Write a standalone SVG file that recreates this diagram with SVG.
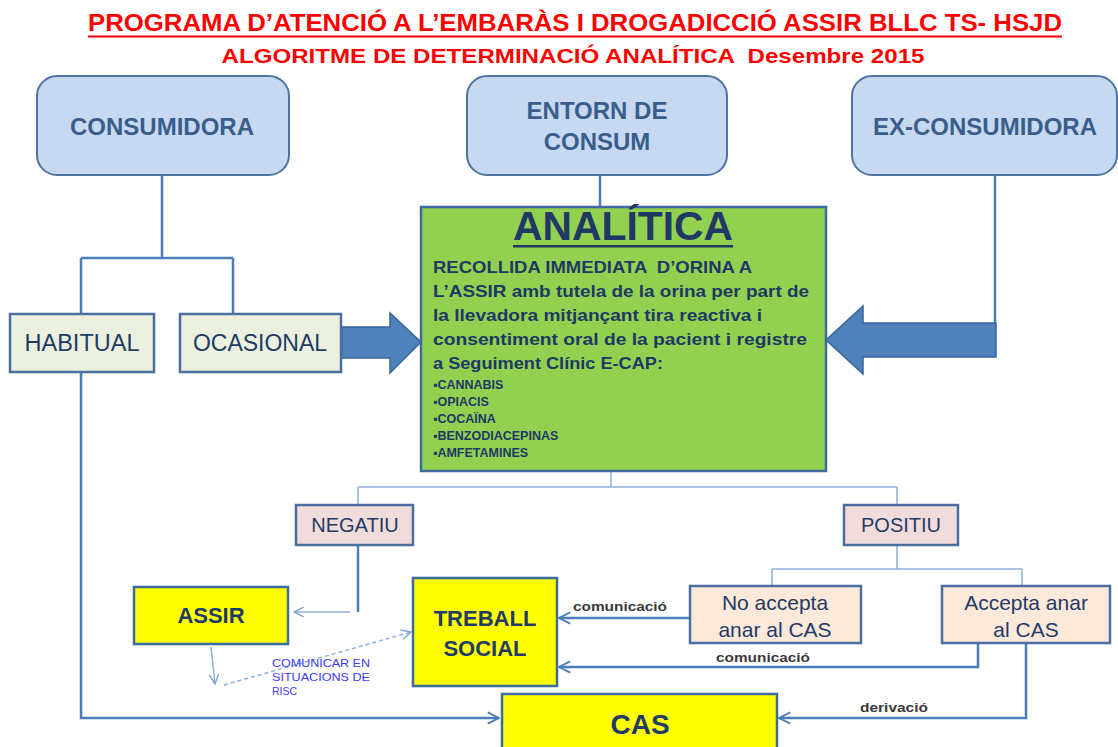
<svg xmlns="http://www.w3.org/2000/svg" width="1118" height="747" viewBox="0 0 1118 747">
<defs>
<style>
text{font-family:"Liberation Sans",Arial,sans-serif}
.title{fill:#ff0000;font-weight:bold;white-space:pre}
.top{fill:#c6d9f1;stroke:#4f73a3;stroke-width:2}
.toptxt{fill:#3a5e8c;font-weight:bold;font-size:24px;text-anchor:middle}
.pale{fill:#ebf1de;stroke:#4a6e9f;stroke-width:2.5}
.pink{fill:#f2dcdb;stroke:#4a6e9f;stroke-width:2.5}
.peach{fill:#fde9d9;stroke:#4a6e9f;stroke-width:2.5}
.yel{fill:#ffff00;stroke:#3e6aa0;stroke-width:2.5}
.navy{fill:#1f3864}
.ntxt{fill:#1f3b66;text-anchor:middle}
.b{font-weight:bold}
.conn{fill:none;stroke:#4a7ebb;stroke-width:2.5}
.thin{fill:none;stroke:#8eb0d9;stroke-width:1.5}
.lbl{fill:#3a3a3a;font-weight:bold;font-size:12px}
.blk{fill:#4f81bd;stroke:#3a6598;stroke-width:1.5}
</style>
<marker id="ahb" viewBox="0 0 10 10" refX="9" refY="5" markerWidth="14" markerHeight="14" orient="auto" markerUnits="userSpaceOnUse">
<path d="M1,1 L9,5 L1,9" fill="none" stroke="#4a7ebb" stroke-width="1.3"/>
</marker>
<marker id="aht" viewBox="0 0 10 10" refX="9" refY="5" markerWidth="12" markerHeight="12" orient="auto" markerUnits="userSpaceOnUse">
<path d="M1,1 L9,5 L1,9" fill="none" stroke="#7fa3d1" stroke-width="1.2"/>
</marker>
</defs>
<rect width="1118" height="747" fill="#ffffff"/>

<g id="title">
<text class="title" x="575" y="31" font-size="23" text-anchor="middle" textLength="974" lengthAdjust="spacingAndGlyphs">PROGRAMA D’ATENCIÓ A L’EMBARÀS I DROGADICCIÓ ASSIR BLLC TS- HSJD</text>
<rect x="88" y="35.5" width="974" height="2" fill="#ff0000"/>
<text class="title" x="573" y="63" font-size="21" text-anchor="middle" textLength="703" lengthAdjust="spacingAndGlyphs">ALGORITME DE DETERMINACIÓ ANALÍTICA  Desembre 2015</text>
</g>

<g id="connectors">
<path class="conn" d="M162,175 V258 M81,258 H233 M81,258 V314 M233,258 V314"/>
<path class="conn" d="M600,175 V207"/>
<path class="conn" d="M995,175 V323"/>
<path class="thin" d="M611,471 V487 M358,487 H897 M358,487 V505 M897,487 V505"/>
<path class="thin" d="M897,545 V569 M772,569 H1022 M772,569 V586 M1022,569 V586"/>
<path class="conn" d="M358,545 V612"/>
<path class="thin" d="M350,612 H294" marker-end="url(#aht)"/>
<path class="thin" d="M211,647 L215,684" marker-end="url(#aht)"/>
<path class="thin" d="M224,685 L411,632" stroke-dasharray="4,3" marker-end="url(#aht)"/>
<path class="conn" d="M81,372 V718 H499" marker-end="url(#ahb)"/>
<path class="conn" d="M690,618 H559" marker-end="url(#ahb)"/>
<path class="conn" d="M978,643 V667 H559" marker-end="url(#ahb)"/>
<path class="conn" d="M1026,643 V718 H779" marker-end="url(#ahb)"/>
<path class="blk" d="M342,327 H390 V313 L421,342 L390,373 V358 H342 Z"/>
<path class="blk" d="M996,323 H863 V306 L826,340 L863,374 V357 H996 Z"/>
<text class="lbl" x="573" y="611" textLength="94" lengthAdjust="spacingAndGlyphs">comunicació</text>
<text class="lbl" x="716" y="662" textLength="94" lengthAdjust="spacingAndGlyphs">comunicació</text>
<text class="lbl" x="860" y="712" textLength="68" lengthAdjust="spacingAndGlyphs">derivació</text>
<g fill="#3b3bff" font-size="10.5">
<text x="272" y="667" textLength="98" lengthAdjust="spacingAndGlyphs">COMUNICAR EN</text>
<text x="272" y="681" textLength="98" lengthAdjust="spacingAndGlyphs">SITUACIONS DE</text>
<text x="272" y="695">RISC</text>
</g>
</g>

<g id="consumidora">
<rect class="top" x="37" y="76" width="252" height="99" rx="20"/>
<text class="toptxt" x="162" y="135">CONSUMIDORA</text>
</g>
<g id="entorn">
<rect class="top" x="467" y="76" width="260" height="99" rx="20"/>
<text class="toptxt" x="597" y="119">ENTORN DE</text>
<text class="toptxt" x="597" y="150">CONSUM</text>
</g>
<g id="exconsumidora">
<rect class="top" x="852" y="76" width="265" height="99" rx="20"/>
<text class="toptxt" x="985" y="135">EX-CONSUMIDORA</text>
</g>

<g id="habitual">
<rect class="pale" x="10" y="314" width="144" height="58"/>
<text class="ntxt" x="82" y="351" font-size="23.5">HABITUAL</text>
</g>
<g id="ocasional">
<rect class="pale" x="180" y="314" width="161" height="58"/>
<text class="ntxt" x="260" y="351" font-size="23">OCASIONAL</text>
</g>

<g id="analitica">
<rect x="421" y="207" width="405" height="264" fill="#92d050" stroke="#3e6aa0" stroke-width="2.5"/>
<text class="navy b" x="623" y="240" font-size="40" text-anchor="middle" textLength="220" lengthAdjust="spacingAndGlyphs">ANALÍTICA</text>
<rect x="513" y="245" width="220" height="2.5" fill="#1f3864"/>
<g class="navy b" font-size="16.5">
<text x="433" y="273" textLength="319" lengthAdjust="spacingAndGlyphs" style="white-space:pre">RECOLLIDA IMMEDIATA  D’ORINA A</text>
<text x="433" y="297" textLength="376" lengthAdjust="spacingAndGlyphs">L’ASSIR amb tutela de la orina per part de</text>
<text x="433" y="321" textLength="329" lengthAdjust="spacingAndGlyphs">la llevadora mitjançant tira reactiva i</text>
<text x="433" y="345" textLength="374" lengthAdjust="spacingAndGlyphs">consentiment oral de la pacient i registre</text>
<text x="433" y="369" textLength="230" lengthAdjust="spacingAndGlyphs">a Seguiment Clínic E-CAP:</text>
</g>
<g class="navy b" font-size="12.5">
<text x="433" y="389">▪CANNABIS</text>
<text x="433" y="406">▪OPIACIS</text>
<text x="433" y="423">▪COCAÏNA</text>
<text x="433" y="440">▪BENZODIACEPINAS</text>
<text x="433" y="457">▪AMFETAMINES</text>
</g>
</g>

<g id="negatiu">
<rect class="pink" x="296" y="505" width="117" height="40"/>
<text class="ntxt" x="355" y="532" font-size="20">NEGATIU</text>
</g>
<g id="positiu">
<rect class="pink" x="844" y="505" width="114" height="40"/>
<text class="ntxt" x="901" y="532" font-size="20">POSITIU</text>
</g>

<g id="assir">
<rect class="yel" x="134" y="587" width="154" height="57"/>
<text class="ntxt b" x="211" y="623" font-size="22">ASSIR</text>
</g>
<g id="treball">
<rect class="yel" x="413" y="578" width="144" height="108"/>
<text class="ntxt b" x="485" y="626" font-size="22">TREBALL</text>
<text class="ntxt b" x="485" y="656" font-size="22">SOCIAL</text>
</g>
<g id="noaccepta">
<rect class="peach" x="690" y="586" width="171" height="57"/>
<text class="ntxt" x="775" y="610" font-size="21">No accepta</text>
<text class="ntxt" x="775" y="637" font-size="21">anar al CAS</text>
</g>
<g id="accepta">
<rect class="peach" x="942" y="586" width="168" height="57"/>
<text class="ntxt" x="1026" y="610" font-size="21">Accepta anar</text>
<text class="ntxt" x="1026" y="637" font-size="21">al CAS</text>
</g>
<g id="cas">
<rect class="yel" x="502" y="694" width="275" height="60"/>
<text class="ntxt b" x="640" y="734" font-size="28">CAS</text>
</g>
</svg>
